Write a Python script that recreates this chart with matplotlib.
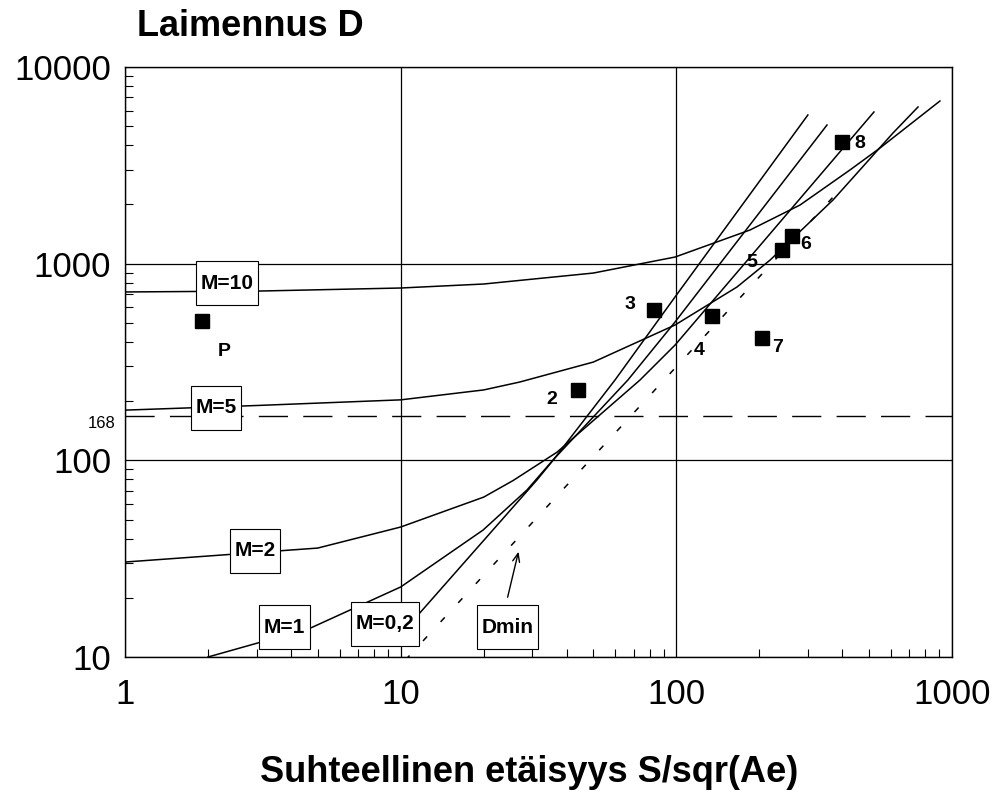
import numpy as np
import matplotlib.pyplot as plt
from matplotlib.path import Path
from matplotlib.ticker import LogLocator, NullFormatter

plt.rcParams['font.family'] = ['Liberation Sans', 'DejaVu Sans']

# curves (x = S/sqr(Ae), y = dilution D)
m10_x = [1, 3.1, 10, 20, 50, 99, 140, 185, 281, 426, 548, 904]
m10_y = [718, 726, 752, 788, 896, 1081, 1288, 1483, 1987, 2992, 3873, 6714]

m5_x = [1, 3, 10, 20, 27, 50, 99, 166, 219, 370, 611, 753]
m5_y = [180, 190, 203, 228, 250, 316, 488, 761, 1044, 2107, 4618, 6262]

m2_x = [1, 5, 10, 20, 25.6, 36.9, 73.8, 99, 521]
m2_y = [30.4, 35.8, 45.8, 65, 79, 110, 256, 386, 5905]

m1_x = [2, 4.69, 10, 19.9, 28.7, 35.7, 66.7, 98.9, 352]
m1_y = [10, 14, 22.7, 44.2, 70.6, 100.4, 256, 505, 5070]

m02_x = [9.5, 11.56, 31.2, 35.7, 59.9, 98.9, 300]
m02_y = [12.0, 16.35, 79.4, 100, 256, 677, 5700]

dmin_x = [10.4, 376]
dmin_y = [9.65, 2232]

# measured points
pt_x = [1.9, 44, 83, 134.7, 241.7, 262.7, 204.5, 399]
pt_y = [511, 228, 581, 542, 1173, 1382, 419, 4155]
pt_lab = ['P', '2', '3', '4', '5', '6', '7', '8']
pt_off = [(16, -22), (-19, -7), (-17, 4), (-9, -25), (-22, -9), (10, -6), (11, -7), (13, -1)]

# curve labels
box_lab = ['M=10', 'M=5', 'M=2', 'M=1', 'M=0,2', 'Dmin']
box_x = [2.35, 2.14, 2.96, 3.79, 8.8, 24.4]
box_y = [794, 185, 34.6, 14.2, 14.8, 14.2]

xticks = [1, 10, 100, 1000]
yticks = [10, 100, 1000, 10000]


def label_box(x0, y0, width, height, mutation_size):
    # narrow sides, tall top/bottom like the original boxes
    px = 0.22 * mutation_size
    py = 0.6 * mutation_size
    return Path([(x0 - px, y0 - py), (x0 + width + px, y0 - py),
                 (x0 + width + px, y0 + height + py), (x0 - px, y0 + height + py),
                 (x0 - px, y0 - py)], closed=True)


fig = plt.figure(figsize=(9.92, 7.92), dpi=100)
ax = fig.add_axes([125/992, 1-657/792, 827/992, 590/792])
ax.set_xscale('log')
ax.set_yscale('log')
ax.set_xlim(1, 1000)
ax.set_ylim(10, 10000)

for xx, yy in [(m10_x, m10_y), (m5_x, m5_y), (m2_x, m2_y), (m1_x, m1_y), (m02_x, m02_y)]:
    ax.plot(xx, yy, color='black', lw=1.1, zorder=3)
ax.plot(dmin_x, dmin_y, color='black', lw=1.1, linestyle=(0, (4, 13)), zorder=3)
ax.axhline(168, color='black', lw=1.0, linestyle=(0, (21, 11)), zorder=2)
ax.text(-0.012, 168, '168', transform=ax.get_yaxis_transform(), ha='right', va='top',
        fontsize=12)

ax.plot(pt_x, pt_y, 's', color='black', markersize=9.5, zorder=5)
for x, y, lab, off in zip(pt_x, pt_y, pt_lab, pt_off):
    ax.annotate(lab, (x, y), xytext=off, textcoords='offset points', ha='center', va='center',
                fontsize=14, fontweight='bold')

for lab, x, y in zip(box_lab, box_x, box_y):
    ax.text(x, y, lab, ha='center', va='center', fontsize=15, fontweight='bold', zorder=6,
            bbox=dict(boxstyle=label_box, fc='white', ec='black', lw=0.8))
ax.annotate('', xy=(26.9, 35.4), xytext=(24.3, 19.5),
            arrowprops=dict(arrowstyle='->,head_length=0.6,head_width=0.25', lw=1.0, color='black'))

ax.grid(True, which='major', color='black', lw=0.9)
ax.set_xticks(xticks)
ax.set_xticklabels([str(t) for t in xticks])
ax.set_yticks(yticks)
ax.set_yticklabels([str(t) for t in yticks])
ax.xaxis.set_minor_locator(LogLocator(base=10, subs=np.arange(2, 10)))
ax.yaxis.set_minor_locator(LogLocator(base=10, subs=np.arange(2, 10)))
ax.xaxis.set_minor_formatter(NullFormatter())
ax.yaxis.set_minor_formatter(NullFormatter())
ax.tick_params(which='major', length=0, labelsize=25)
ax.tick_params(axis='x', which='major', pad=15)
ax.tick_params(axis='y', which='major', pad=10)
ax.tick_params(which='minor', direction='in', length=6, width=0.8, top=False, right=False)
for s in ax.spines.values():
    s.set_linewidth(1.0)

ax.set_xlabel('Suhteellinen etäisyys S/sqr(Ae)', fontsize=26, fontweight='bold', va='baseline')
ax.xaxis.set_label_coords((529-125)/827, (657-782)/590)
fig.text(137/992, 1-36/792, 'Laimennus D', fontsize=26, fontweight='bold', ha='left', va='baseline')

fig.savefig('out.png', dpi=100)
